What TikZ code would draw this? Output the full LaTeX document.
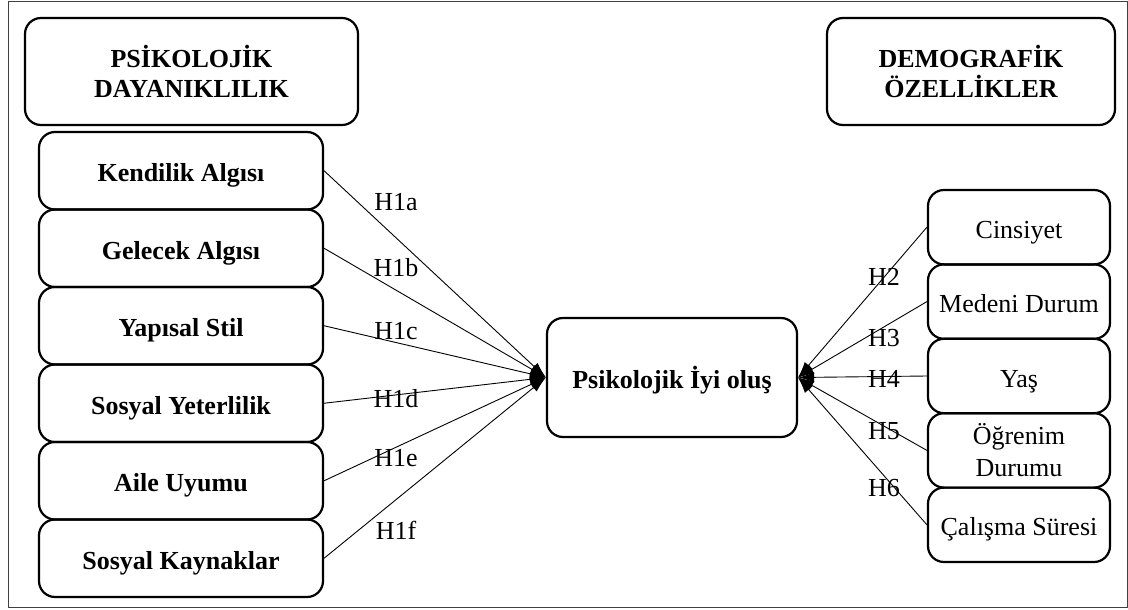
\documentclass[tikz,border=0pt]{standalone}
\usepackage{fontspec}
\setmainfont{Liberation Serif}
\usetikzlibrary{arrows.meta}
\begin{document}
\begin{tikzpicture}[x=1pt,y=-1pt,
  box/.style={draw, line width=2.2pt, rounded corners=16pt, align=center, inner sep=2pt,
    font=\fontsize{26}{30}\selectfont},
  bbox/.style={box, font=\fontsize{26}{30}\selectfont\bfseries},
  one/.style={text height=22pt, text depth=0pt},
  lbox/.style={bbox, one, minimum width=284pt, minimum height=77.5pt},
  rbox/.style={box, minimum width=182pt, minimum height=74.4pt},
  conn/.style={line width=0.9pt, -{Latex[length=16pt,width=10pt]}},
  lab/.style={font=\fontsize{26}{30}\selectfont, inner sep=0pt}
]
\useasboundingbox (0,0) rectangle (1128,610);
\draw[line width=1pt, black!75] (8,2) rectangle (1127,607);

\node[bbox, minimum width=333pt, minimum height=107pt] (pd) at (191.5,71.5) {PSİKOLOJİK\\DAYANIKLILIK};
\node[bbox, minimum width=288pt, minimum height=107pt] (dz) at (971,71.5) {DEMOGRAFİK\\ÖZELLİKLER};

\node[lbox] (k1) at (181,170.75) {Kendilik Algısı};
\node[lbox] (k2) at (181,248.25) {Gelecek Algısı};
\node[lbox] (k3) at (181,325.75) {Yapısal Stil};
\node[lbox] (k4) at (181,403.25) {Sosyal Yeterlilik};
\node[lbox] (k5) at (181,480.75) {Aile Uyumu};
\node[lbox] (k6) at (181,558.25) {Sosyal Kaynaklar};

\node[bbox, one, minimum width=250pt, minimum height=119pt] (pi) at (672,377.5) {Psikolojik İyi oluş};

\node[rbox, one] (d1) at (1019,227.2) {Cinsiyet};
\node[rbox, one] (d2) at (1019,301.6) {Medeni Durum};
\node[rbox, one] (d3) at (1019,376) {Yaş};
\node[rbox, font=\fontsize{26}{32}\selectfont] (d4) at (1019,450.4) {Öğrenim\\Durumu};
\node[rbox, one] (d5) at (1019,524.8) {Çalışma Süresi};

\foreach \i in {1,...,6} \draw[conn] (k\i.east) -- (pi.west);
\foreach \i in {1,...,5} \draw[conn] (d\i.west) -- (pi.east);

\node[lab] (h1a) at (396,202) {H1a};
\node[lab] (h1b) at (396,268) {H1b};
\node[lab] (h1c) at (396,331) {H1c};
\node[lab] (h1d) at (396,399) {H1d};
\node[lab] (h1e) at (396,458) {H1e};
\node[lab] (h1f) at (396,530) {H1f};

\node[lab] (h2) at (884,277) {H2};
\node[lab] (h3) at (884,338) {H3};
\node[lab] (h4) at (884,379) {H4};
\node[lab] (h5) at (884,431) {H5};
\node[lab] (h6) at (884,488) {H6};
\end{tikzpicture}
\end{document}
